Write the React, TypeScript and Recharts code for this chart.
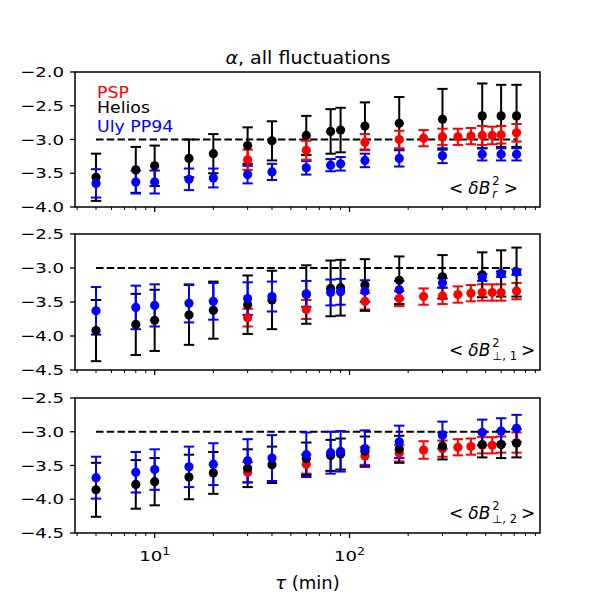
import React from "react";
import {
  ScatterChart,
  Scatter,
  XAxis,
  YAxis,
  ErrorBar,
  ReferenceLine,
  ReferenceArea,
} from "recharts";

// lag times (min)
const helX = [5, 8, 10, 15, 20, 30, 40, 60, 80, 90, 120, 180, 300, 480, 600, 720];
const pspX = [30, 60, 120, 180, 240, 300, 360, 420, 480, 540, 600, 720];

// <dB_r^2>
const helR = [-3.56, -3.45, -3.39, -3.28, -3.21, -3.09, -3.02, -2.94, -2.88, -2.86, -2.8, -2.76, -2.7, -2.65, -2.65, -2.65];
const helRErr = [0.35, 0.34, 0.3, 0.28, 0.29, 0.27, 0.29, 0.29, 0.33, 0.33, 0.35, 0.39, 0.45, 0.48, 0.46, 0.46];
const ulyR = [-3.65, -3.63, -3.63, -3.59, -3.57, -3.52, -3.48, -3.42, -3.38, -3.36, -3.31, -3.28, -3.24, -3.22, -3.22, -3.22];
const ulyRErr = [0.21, 0.17, 0.17, 0.16, 0.14, 0.13, 0.12, 0.1, 0.09, 0.1, 0.1, 0.12, 0.11, 0.09, 0.09, 0.09];
const pspR = [-3.3, -3.16, -3.04, -3.0, -2.98, -2.96, -2.96, -2.95, -2.94, -2.94, -2.93, -2.9];
const pspRErr = [0.15, 0.14, 0.12, 0.13, 0.12, 0.12, 0.12, 0.12, 0.14, 0.13, 0.13, 0.13];

// <dB_perp1^2>
const helP1 = [-3.92, -3.83, -3.77, -3.69, -3.62, -3.54, -3.47, -3.39, -3.3, -3.29, -3.25, -3.18, -3.13, -3.1, -3.08, -3.06];
const helP1Err = [0.45, 0.45, 0.45, 0.44, 0.42, 0.43, 0.43, 0.43, 0.41, 0.41, 0.38, 0.35, 0.32, 0.33, 0.34, 0.36];
const ulyP1 = [-3.63, -3.58, -3.55, -3.52, -3.49, -3.45, -3.42, -3.38, -3.36, -3.35, -3.34, -3.32, -3.22, -3.14, -3.09, -3.06];
const ulyP1Err = [0.35, 0.32, 0.31, 0.28, 0.27, 0.24, 0.22, 0.19, 0.19, 0.19, 0.16, 0.13, 0.07, 0.05, 0.04, 0.04];
const pspP1 = [-3.73, -3.61, -3.49, -3.45, -3.42, -3.41, -3.39, -3.37, -3.36, -3.36, -3.36, -3.34];
const pspP1Err = [0.13, 0.14, 0.12, 0.11, 0.12, 0.12, 0.12, 0.12, 0.12, 0.12, 0.12, 0.12];

// <dB_perp2^2>
const helP2 = [-3.86, -3.78, -3.74, -3.67, -3.61, -3.54, -3.49, -3.4, -3.35, -3.33, -3.29, -3.26, -3.21, -3.19, -3.19, -3.17];
const helP2Err = [0.4, 0.36, 0.35, 0.33, 0.31, 0.28, 0.27, 0.24, 0.23, 0.23, 0.22, 0.2, 0.2, 0.19, 0.2, 0.21];
const ulyP2 = [-3.68, -3.6, -3.56, -3.52, -3.48, -3.43, -3.39, -3.34, -3.31, -3.29, -3.25, -3.15, -3.05, -3.01, -2.99, -2.95];
const ulyP2Err = [0.31, 0.3, 0.3, 0.3, 0.31, 0.32, 0.34, 0.33, 0.31, 0.3, 0.27, 0.24, 0.2, 0.19, 0.19, 0.2];
const pspP2 = [-3.6, -3.48, -3.36, -3.32, -3.27, -3.25, -3.23, -3.22, -3.2, -3.2, -3.19, -3.16];
const pspP2Err = [0.15, 0.14, 0.13, 0.12, 0.13, 0.12, 0.12, 0.12, 0.12, 0.12, 0.12, 0.15];

const xTicks = [4, 5, 6, 7, 8, 9, 10, 20, 30, 40, 50, 60, 70, 80, 90, 100, 200, 300, 400, 500, 600, 700, 800, 900];
const topTicks = [-4, -3.5, -3, -2.5, -2];
const lowTicks = [-4.5, -4, -3.5, -3, -2.5];

const X_MIN = 3.9;
const X_MAX = 950;
const FONT = "'DejaVu Sans', sans-serif";
const RED = "#ff0000";
const BLACK = "#000000";
const BLUE = "#0000ff";

const pts = (xs: number[], ys: number[], es: number[]) =>
  xs.map((x, i) => ({ x, y: ys[i], err: es[i] }));

const fmt = (v: number) => v.toFixed(1).replace("-", "\u2212");

function YTick(props: any) {
  const { x, y, payload } = props;
  return (
    <text
      transform={`translate(${x} ${y}) scale(1.25 1)`}
      textAnchor="end"
      dy="0.36em"
      fontSize={14.5}
      fill="#000"
      fontFamily={FONT}
    >
      {fmt(payload.value)}
    </text>
  );
}

function makeXTick(showLabel: boolean) {
  return (props: any) => {
    const { x, y, payload } = props;
    const e = Math.log10(payload.value);
    const major = Math.abs(e - Math.round(e)) < 1e-9;
    return (
      <g>
        <line x1={x} x2={x} y1={y} y2={y + (major ? 5 : 3)} stroke="#000" strokeWidth={major ? 1.3 : 1} />
        {showLabel && major && (
          <text
            transform={`translate(${x} ${y + 28}) scale(1.25 1)`}
            textAnchor="middle"
            fontSize={14.5}
            fill="#000"
            fontFamily={FONT}
          >
            10<tspan dy={-6.5} fontSize={10}>{Math.round(e)}</tspan>
          </text>
        )}
      </g>
    );
  };
}

type Series = { name: string; color: string; data: { x: number; y: number; err: number }[] };

function Panel({ top, plotH, xAxisH, showXLabels, yMin, yMax, yTicks, series }: {
  top: number; plotH: number; xAxisH: number; showXLabels: boolean;
  yMin: number; yMax: number; yTicks: number[]; series: Series[];
}) {
  const mTop = 10;
  return (
    <div style={{ position: "absolute", left: 0, top: top - mTop }}>
      <ScatterChart width={600} height={mTop + plotH + xAxisH} margin={{ top: mTop, right: 60, bottom: 0, left: 15 }}>
        <XAxis
          dataKey="x"
          type="number"
          scale="log"
          domain={[X_MIN, X_MAX]}
          allowDataOverflow
          ticks={xTicks}
          interval={0}
          tickLine={false}
          tickSize={0}
          tickMargin={0}
          axisLine={false}
          height={xAxisH}
          tick={makeXTick(showXLabels)}
        />
        <YAxis
          dataKey="y"
          type="number"
          domain={[yMin, yMax]}
          allowDataOverflow
          ticks={yTicks}
          interval={0}
          width={60}
          tickSize={5}
          tickMargin={6}
          tickLine={{ stroke: "#000", strokeWidth: 1.3 }}
          axisLine={false}
          tick={<YTick />}
        />
        <ReferenceLine
          segment={[{ x: 5, y: -3 }, { x: 720, y: -3 }]}
          stroke="#000"
          strokeWidth={2}
          strokeDasharray="7.5 3.2"
        />
        {series.map((s) => (
          <Scatter
            key={s.name}
            name={s.name}
            data={s.data}
            fill={s.color}
            isAnimationActive={false}
            shape={(p: any) => <circle cx={p.cx} cy={p.cy} r={4.6} fill={s.color} />}
          >
            <ErrorBar dataKey="err" direction="y" width={5.2} strokeWidth={2} stroke={s.color} isAnimationActive={false} />
          </Scatter>
        ))}
        <ReferenceArea x1={X_MIN} x2={X_MAX} y1={yMin} y2={yMax} fill="none" stroke="#000" strokeWidth={1.5} />
      </ScatterChart>
    </div>
  );
}

function Annot({ cy, sub, subItalic }: { cy: number; sub: string; subItalic?: boolean }) {
  return (
    <div
      style={{
        position: "absolute",
        left: 449,
        top: cy,
        transform: "translateY(-50%)",
        display: "flex",
        alignItems: "center",
        fontSize: 17,
        lineHeight: "17px",
        whiteSpace: "nowrap",
      }}
    >
      <span>&lt;</span>
      <span style={{ fontStyle: "italic", marginLeft: 5 }}>δB</span>
      <span style={{ display: "inline-flex", flexDirection: "column", fontSize: 11.5, lineHeight: "13px", marginLeft: 2 }}>
        <span>2</span>
        <span style={{ fontStyle: subItalic ? "italic" : "normal" }}>{sub}</span>
      </span>
      <span style={{ marginLeft: 4 }}>&gt;</span>
    </div>
  );
}

const legendItem = (label: string, color: string, baseline: number) => (
  <div
    style={{
      position: "absolute",
      left: 97,
      top: baseline - 12,
      fontSize: 16.5,
      lineHeight: "13px",
      color,
      whiteSpace: "nowrap",
      transform: "scaleX(1.05)",
      transformOrigin: "left center",
    }}
  >
    {label}
  </div>
);

export default function App() {
  return (
    <div style={{ position: "absolute", left: 0, top: 0, width: 600, height: 600, background: "#fff", fontFamily: FONT, color: "#000" }}>
      <Panel
        top={72}
        plotH={135}
        xAxisH={8}
        showXLabels={false}
        yMin={-4}
        yMax={-2}
        yTicks={topTicks}
        series={[
          { name: "Helios", color: BLACK, data: pts(helX, helR, helRErr) },
          { name: "Uly PP94", color: BLUE, data: pts(helX, ulyR, ulyRErr) },
          { name: "PSP", color: RED, data: pts(pspX, pspR, pspRErr) },
        ]}
      />
      <Panel
        top={234}
        plotH={136}
        xAxisH={8}
        showXLabels={false}
        yMin={-4.5}
        yMax={-2.5}
        yTicks={lowTicks}
        series={[
          { name: "PSP", color: RED, data: pts(pspX, pspP1, pspP1Err) },
          { name: "Helios", color: BLACK, data: pts(helX, helP1, helP1Err) },
          { name: "Uly PP94", color: BLUE, data: pts(helX, ulyP1, ulyP1Err) },
        ]}
      />
      <Panel
        top={398}
        plotH={135}
        xAxisH={45}
        showXLabels={true}
        yMin={-4.5}
        yMax={-2.5}
        yTicks={lowTicks}
        series={[
          { name: "PSP", color: RED, data: pts(pspX, pspP2, pspP2Err) },
          { name: "Helios", color: BLACK, data: pts(helX, helP2, helP2Err) },
          { name: "Uly PP94", color: BLUE, data: pts(helX, ulyP2, ulyP2Err) },
        ]}
      />

      <div
        style={{
          position: "absolute",
          left: 308,
          top: 49.6,
          fontSize: 17,
          lineHeight: "17px",
          whiteSpace: "nowrap",
          transform: "translateX(-50%) scaleX(1.12)",
        }}
      >
        <i>α</i>, all fluctuations
      </div>

      {legendItem("PSP", RED, 97.8)}
      {legendItem("Helios", BLACK, 113.2)}
      {legendItem("Uly PP94", BLUE, 132)}

      <Annot cy={188} sub="r" subItalic />
      <Annot cy={350} sub="⊥, 1" />
      <Annot cy={513} sub="⊥, 2" />

      <div
        style={{
          position: "absolute",
          left: 307.5,
          top: 574.3,
          fontSize: 18,
          lineHeight: "18px",
          whiteSpace: "nowrap",
          transform: "translateX(-50%)",
        }}
      >
        <i>τ</i> (min)
      </div>
    </div>
  );
}
